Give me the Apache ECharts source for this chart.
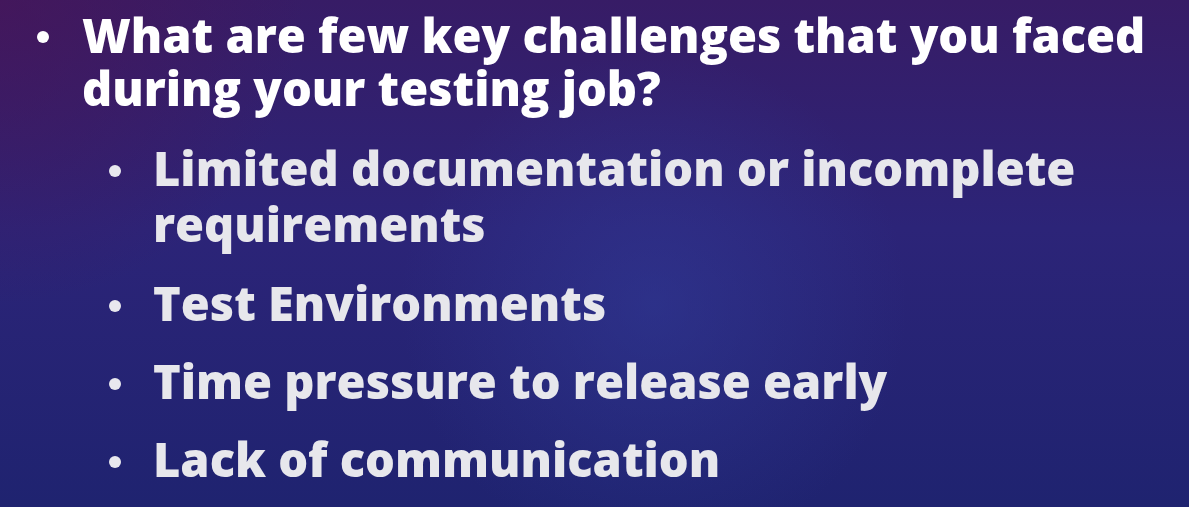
<!DOCTYPE html>
<html><head><meta charset="utf-8">
<script src="https://cdn.jsdelivr.net/npm/echarts@6/dist/echarts.min.js"></script>
<style>html,body{margin:0;padding:0;overflow:hidden;background:#2a2a7a}#c{width:1189px;height:507px}</style>
</head><body><div id="c"></div>
<script>
const questionLines = ["What are few key challenges that you faced", "during your testing job?"];
const answerItems = [
  ["Limited documentation or incomplete", "requirements"],
  ["Test Environments"],
  ["Time pressure to release early"],
  ["Lack of communication"]
];

const chart = echarts.init(document.getElementById('c'), null, {renderer: 'canvas'});
const FONT = '"Open Sans", "Noto Sans", sans-serif';
const elements = [];
elements.push({type: 'rect', shape: {x: 0, y: 0, width: 1189, height: 507}, z: 0,
  style: {fill: new echarts.graphic.LinearGradient(0, 0, 0, 1, [
    {offset: 0, color: '#371c66'}, {offset: 0.45, color: '#2c2478'},
    {offset: 1, color: '#1f2370'}])}});
elements.push({type: 'rect', shape: {x: 0, y: 0, width: 1189, height: 507}, z: 1,
  style: {fill: new echarts.graphic.RadialGradient(0, 0, 0.6, [
    {offset: 0, color: 'rgba(75,20,85,0.6)'}, {offset: 1, color: 'rgba(75,20,85,0)'}])}});
elements.push({type: 'rect', shape: {x: 0, y: 0, width: 1189, height: 507}, z: 2,
  style: {fill: new echarts.graphic.RadialGradient(0.55, 0.6, 0.5, [
    {offset: 0, color: 'rgba(50,65,160,0.45)'}, {offset: 1, color: 'rgba(50,65,160,0)'}])}});

const qSize = 47, aSize = 47;
const qBase = [54, 107];
const baseOff = s => Math.round(s * 0.818);
questionLines.forEach((t, i) => {
  elements.push({type: 'text', x: 82, y: qBase[i] - baseOff(qSize), z: 5,
    style: {text: t, fill: '#ffffff', font: `800 ${qSize}px ${FONT}`,
      shadowColor: 'rgba(0,0,0,0.35)', shadowBlur: 3, shadowOffsetX: 1, shadowOffsetY: 1}});
});
elements.push({type: 'circle', shape: {cx: 43, cy: qBase[0] - 17, r: 6}, z: 5, style: {fill: '#ffffff'}});

const lineBases = [187, 243, 322, 400, 478];
let k = 0;
answerItems.forEach(item => {
  item.forEach((t, j) => {
    const y = lineBases[k++];
    if (j === 0) elements.push({type: 'circle', shape: {cx: 115, cy: y - 16, r: 6}, z: 5, style: {fill: '#e8e8ee'}});
    elements.push({type: 'text', x: 153, y: y - baseOff(aSize), z: 5,
      style: {text: t, fill: '#e7e7ec', font: `800 ${aSize}px ${FONT}`,
        shadowColor: 'rgba(0,0,0,0.35)', shadowBlur: 3, shadowOffsetX: 1, shadowOffsetY: 1}});
  });
});

chart.setOption({animation: false, graphic: {elements}});
</script></body></html>
